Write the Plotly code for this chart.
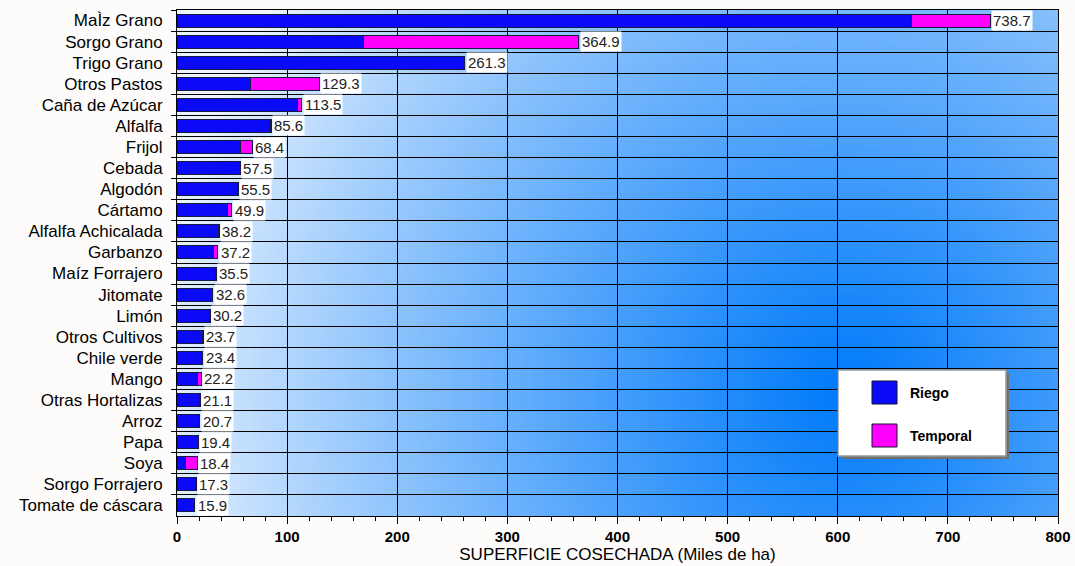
import base64
import struct
import zlib

import numpy as np
import plotly.graph_objects as go

categories = ["MaÌz Grano", "Sorgo Grano", "Trigo Grano", "Otros Pastos", "Caña de Azúcar",
              "Alfalfa", "Frijol", "Cebada", "Algodón", "Cártamo", "Alfalfa Achicalada",
              "Garbanzo", "Maíz Forrajero", "Jitomate", "Limón", "Otros Cultivos",
              "Chile verde", "Mango", "Otras Hortalizas", "Arroz", "Papa", "Soya",
              "Sorgo Forrajero", "Tomate de cáscara"]
riego = [667.0, 169.5, 261.0, 66.5, 109.8, 84.6, 57.7, 57.3, 55.3, 46.0, 38.0, 33.3,
         34.8, 32.2, 29.1, 23.0, 22.9, 18.8, 20.6, 20.0, 19.2, 7.3, 16.4, 15.6]
temporal = [71.7, 195.4, 0.3, 62.8, 3.7, 1.0, 10.7, 0.2, 0.2, 3.9, 0.2, 3.9,
            0.7, 0.4, 1.1, 0.7, 0.5, 3.4, 0.5, 0.7, 0.2, 11.1, 0.9, 0.3]
totals = [738.7, 364.9, 261.3, 129.3, 113.5, 85.6, 68.4, 57.5, 55.5, 49.9, 38.2, 37.2,
          35.5, 32.6, 30.2, 23.7, 23.4, 22.2, 21.1, 20.7, 19.4, 18.4, 17.3, 15.9]
x_ticks = [0, 100, 200, 300, 400, 500, 600, 700, 800]
series_names = ["Riego", "Temporal"]
series_colors = ["#0a0af8", "#ff00ff"]

W, H = 1075, 566
ML, MR, MT, MB = 177, 17, 10, 50
PW, PH = W - ML - MR, H - MT - MB


def gradient_png(w, h):
    xs = ML + (np.arange(w) + 0.5) * PW / w
    ys = MT + (np.arange(h) + 0.5) * PH / h
    X, Y = np.meshgrid(xs, ys)
    d = np.sqrt(((X - 845) / 690.0) ** 2 + ((Y - 390) / 680.0) ** 2)
    t = np.clip(1 - d, 0, 1) ** 0.85
    light = np.array([236, 245, 255], float)
    dark = np.array([0, 122, 250], float)
    img = light[None, None, :] * (1 - t[..., None]) + dark[None, None, :] * t[..., None]
    img = img.astype(np.uint8)
    raw = b"".join(b"\x00" + img[i].tobytes() for i in range(h))

    def chunk(tag, data):
        c = struct.pack(">I", len(data)) + tag + data
        return c + struct.pack(">I", zlib.crc32(tag + data) & 0xFFFFFFFF)

    png = b"\x89PNG\r\n\x1a\n" + chunk(b"IHDR", struct.pack(">IIBBBBB", w, h, 8, 2, 0, 0, 0))
    png += chunk(b"IDAT", zlib.compress(raw, 9)) + chunk(b"IEND", b"")
    return "data:image/png;base64," + base64.b64encode(png).decode()


fig = go.Figure()
for name, vals, col in zip(series_names, [riego, temporal], series_colors):
    fig.add_trace(go.Bar(
        y=categories, x=vals, name=name, orientation="h",
        marker=dict(color=col, line=dict(color="#1a1a40", width=1)),
        width=0.62, showlegend=False, hoverinfo="x+y+name",
    ))

for cat, tot in zip(categories, totals):
    fig.add_annotation(
        x=tot, y=cat, text=f"{tot:.1f}", showarrow=False, xanchor="left", xshift=1,
        bgcolor="white", borderpad=1,
        font=dict(family="Liberation Sans", size=15, color="#222222"),
    )

# manual legend
lx0, lx1 = (838 - ML) / PW, (1006 - ML) / PW
ly1, ly0 = 1 - (370 - MT) / PH, 1 - (456 - MT) / PH
sh = 3 / PW
fig.add_shape(type="rect", xref="paper", yref="paper", x0=lx0 + sh, x1=lx1 + sh,
              y0=ly0 - 3 / PH, y1=ly1 - 3 / PH, fillcolor="#707070", line_width=0, layer="above")
fig.add_shape(type="rect", xref="paper", yref="paper", x0=lx0, x1=lx1, y0=ly0, y1=ly1,
              fillcolor="white", line=dict(color="#9a9a9a", width=1.5), layer="above")
for i, (name, col) in enumerate(zip(series_names, series_colors)):
    top = 381 + i * 43
    fig.add_shape(type="rect", xref="paper", yref="paper",
                  x0=(872 - ML) / PW, x1=(897 - ML) / PW,
                  y0=1 - (top + 23 - MT) / PH, y1=1 - (top - MT) / PH,
                  fillcolor=col, line=dict(color="#101030", width=1), layer="above")
    fig.add_annotation(xref="paper", yref="paper", x=(908 - ML) / PW,
                       y=1 - (top + 12 - MT) / PH, text=f"<b>{name}</b>", showarrow=False,
                       xanchor="left", yanchor="middle",
                       font=dict(family="Liberation Sans", size=14, color="black"))

fig.add_layout_image(dict(
    source=gradient_png(220, 126), xref="paper", yref="paper", x=0, y=1,
    sizex=1, sizey=1, xanchor="left", yanchor="top", sizing="stretch", layer="below",
))

fig.update_layout(
    width=W, height=H, barmode="stack", bargap=0.38,
    margin=dict(l=ML, r=MR, t=MT, b=MB, autoexpand=False),
    paper_bgcolor="#fdfcfa", plot_bgcolor="rgba(0,0,0,0)",
    font=dict(family="Liberation Sans", color="black"),
)
fig.update_xaxes(
    range=[0, 800], tickvals=x_ticks, ticks="outside", ticklen=7, tickcolor="black",
    showgrid=True, gridcolor="black", gridwidth=1, zeroline=False, automargin=False,
    showline=True, linecolor="black", linewidth=1, mirror=True,
    minor=dict(dtick=20, ticks="outside", ticklen=4, tickcolor="black", showgrid=False),
    tickfont=dict(family="Liberation Sans", size=15, color="black", weight="bold"),
    title=dict(text="SUPERFICIE COSECHADA (Miles de ha)", standoff=2,
               font=dict(family="Liberation Sans", size=17, color="black")),
    fixedrange=True,
)
fig.update_yaxes(
    categoryorder="array", categoryarray=categories, autorange="reversed",
    tickson="boundaries", ticks="outside", ticklen=5, tickcolor="black",
    showgrid=True, gridcolor="black", gridwidth=1, automargin=False,
    showline=True, linecolor="black", linewidth=1, mirror=True,
    tickfont=dict(family="Liberation Sans", size=17, color="black"),
    ticklabelstandoff=10, fixedrange=True,
)

fig.write_html(
    "out.html",
    config={"displayModeBar": False},
    post_script="document.body.style.margin='0';document.body.style.overflow='hidden';",
)
